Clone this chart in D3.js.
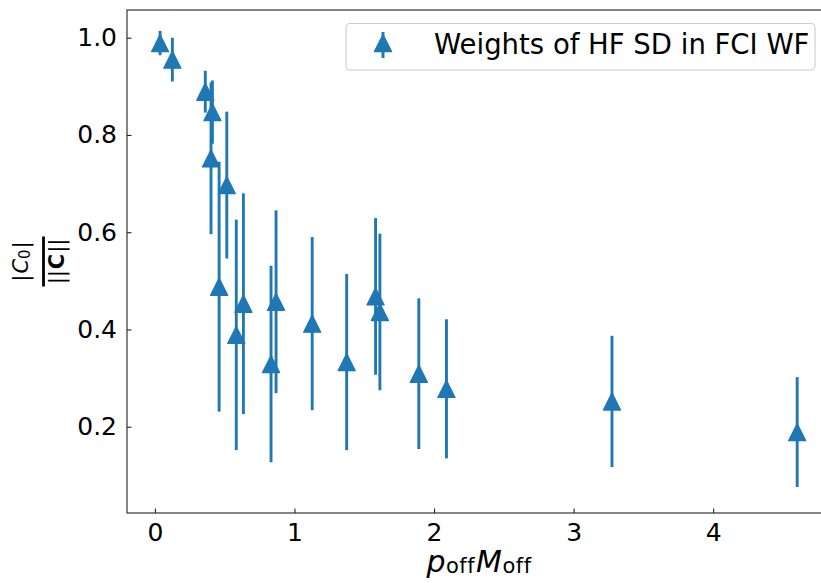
<!DOCTYPE html>
<html>
<head>
<meta charset="utf-8">
<script src="https://cdn.jsdelivr.net/npm/d3@7"></script>
<style>
  body { margin: 0; background: #fff; }
  svg { display: block; font-family: "DejaVu Sans", sans-serif; }
</style>
</head>
<body>
<svg id="chart" width="821" height="583"></svg>
<script>
// values
const xVals = [0.037, 0.125, 0.361, 0.412, 0.402, 0.460, 0.515, 0.583, 0.634, 0.832,
               0.868, 1.127, 1.374, 1.581, 1.612, 1.891, 2.089, 3.275, 4.602];
const yVals = [0.989, 0.955, 0.889, 0.847, 0.752, 0.488, 0.697, 0.389, 0.453, 0.329,
               0.457, 0.412, 0.333, 0.468, 0.436, 0.309, 0.278, 0.252, 0.189];
const yErrs = [0.025, 0.045, 0.043, 0.065, 0.156, 0.257, 0.151, 0.237, 0.227, 0.202,
               0.188, 0.178, 0.181, 0.161, 0.161, 0.155, 0.143, 0.135, 0.113];
const xTicks = [0, 1, 2, 3, 4];
const yTicks = [0.2, 0.4, 0.6, 0.8, 1.0];
const legendLabel = "Weights of HF SD in FCI WF";

const color = "#1f77b4";
const svg = d3.select("#chart");

const pLeft = 127, pRight = 829, pTop = 10, pBottom = 513;

const x = d3.scaleLinear().domain([-0.2, 4.83]).range([pLeft, pRight]);
const y = d3.scaleLinear().domain([0.0226, 1.057]).range([pBottom, pTop]);

const points = xVals.map((v, i) => ({x: v, y: yVals[i], e: yErrs[i]}));

// error bars first
svg.append("g")
  .selectAll("line")
  .data(points)
  .join("line")
  .attr("x1", d => x(d.x)).attr("x2", d => x(d.x))
  .attr("y1", d => y(d.y - d.e)).attr("y2", d => y(d.y + d.e))
  .attr("stroke", color)
  .attr("stroke-width", 2.9);

const tri = d3.symbol().type({
  draw(ctx, s) {
    ctx.moveTo(0, -s); ctx.lineTo(-s, s); ctx.lineTo(s, s); ctx.closePath();
  }
}).size(8.6);

svg.append("g")
  .selectAll("path")
  .data(points)
  .join("path")
  .attr("d", tri)
  .attr("transform", d => `translate(${x(d.x)},${y(d.y)})`)
  .attr("fill", color)
  .attr("stroke", color)
  .attr("stroke-width", 1.2)
  .attr("stroke-linejoin", "round");

// axes, ticks pointing inwards
const xAxis = svg.append("g")
  .attr("transform", `translate(0,${pBottom})`)
  .call(d3.axisBottom(x).tickValues(xTicks).tickFormat(d3.format("d"))
    .tickSizeInner(-4.5).tickSizeOuter(0).tickPadding(10));
const yAxis = svg.append("g")
  .attr("transform", `translate(${pLeft},0)`)
  .call(d3.axisLeft(y).tickValues(yTicks).tickFormat(d3.format(".1f"))
    .tickSizeInner(-4.5).tickSizeOuter(0).tickPadding(10));

[xAxis, yAxis].forEach(g => {
  g.select(".domain").remove();
  g.selectAll("line").attr("stroke", "#222").attr("stroke-width", 1.1);
  g.selectAll("text").attr("font-size", 25).attr("fill", "#000")
    .attr("font-family", "DejaVu Sans");
});

// frame
svg.append("rect")
  .attr("x", pLeft).attr("y", pTop)
  .attr("width", pRight - pLeft).attr("height", pBottom - pTop)
  .attr("fill", "none").attr("stroke", "#222").attr("stroke-width", 1.1);

// x label: p_off M_off
const xl = svg.append("text")
  .attr("x", 479).attr("y", 572)
  .attr("text-anchor", "middle")
  .attr("font-size", 30);
xl.append("tspan").attr("font-style", "italic").text("p");
xl.append("tspan").attr("font-size", 21).attr("dx", 0.5).attr("dy", 1)
  .attr("letter-spacing", 0.5).text("off");
xl.append("tspan").attr("font-style", "italic").attr("dx", 1).attr("dy", -1).text("M");
xl.append("tspan").attr("font-size", 21).attr("dx", 0.5).attr("dy", 1)
  .attr("letter-spacing", 0.5).text("off");

// y label: |C_0| / ||C||
const yl = svg.append("g")
  .attr("transform", `translate(43.5,${(pTop + pBottom) / 2}) rotate(-90)`);
const num = yl.append("text").attr("y", -16).attr("text-anchor", "middle")
  .attr("font-size", 21);
num.append("tspan").text("|");
num.append("tspan").attr("font-style", "italic").attr("dx", 1).text("C");
num.append("tspan").attr("font-size", 15).attr("dy", 2).text("0");
num.append("tspan").attr("dy", -2).attr("dx", 1).text("|");
yl.append("line")
  .attr("x1", -25).attr("x2", 25)
  .attr("stroke", "#000").attr("stroke-width", 2.8);
const den = yl.append("text").attr("y", 20).attr("text-anchor", "middle")
  .attr("font-size", 21);
den.append("tspan").text("||");
den.append("tspan").attr("font-weight", "bold").attr("dx", 1).text("C");
den.append("tspan").attr("dx", 1).text("||");

// legend
const lg = svg.append("g");
lg.append("rect")
  .attr("x", 346).attr("y", 23.5).attr("width", 469).attr("height", 46.5)
  .attr("rx", 4)
  .attr("fill", "#fff").attr("fill-opacity", 0.8)
  .attr("stroke", "#ccc").attr("stroke-width", 1.1);
lg.append("line")
  .attr("x1", 383).attr("x2", 383).attr("y1", 32).attr("y2", 58)
  .attr("stroke", color).attr("stroke-width", 2.9);
lg.append("path")
  .attr("d", tri)
  .attr("transform", "translate(383,43)")
  .attr("fill", color).attr("stroke", color).attr("stroke-width", 1.2)
  .attr("stroke-linejoin", "round");
lg.append("text")
  .attr("x", 434).attr("y", 54)
  .attr("font-size", 27.5)
  .text(legendLabel);
</script>
</body>
</html>
